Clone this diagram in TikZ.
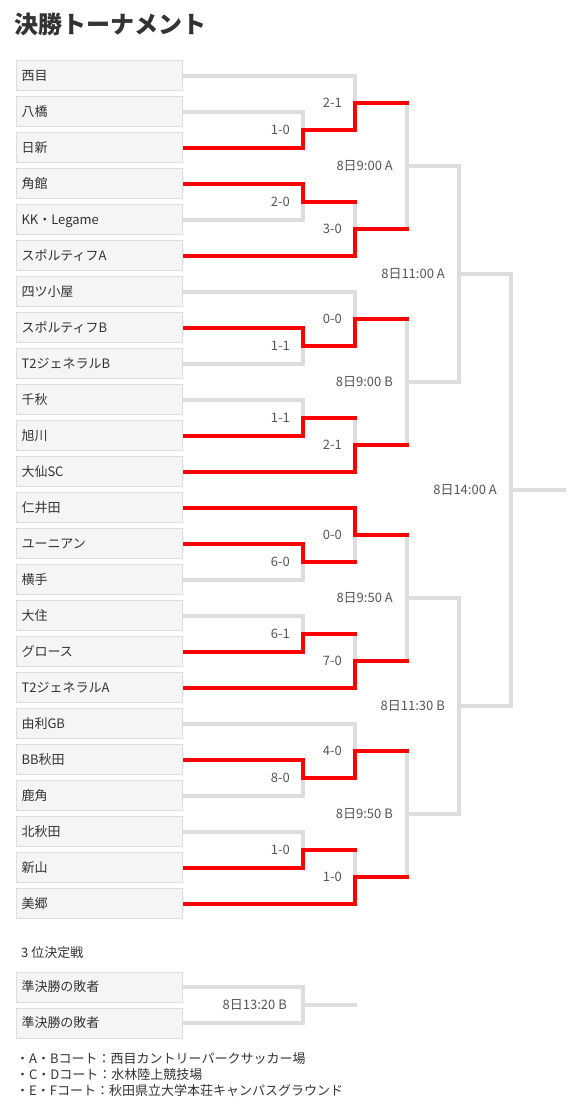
\documentclass[tikz,border=0pt]{standalone}
\usepackage{fontspec}
\setmainfont{Noto Sans CJK JP}
\usepackage{xcolor}
\usetikzlibrary{calc,positioning}
\definecolor{bracketgray}{HTML}{DDDDDD}
\definecolor{boxgray}{HTML}{F5F5F5}
\definecolor{winred}{HTML}{FF0000}
\definecolor{textdark}{HTML}{333333}
\definecolor{textmid}{HTML}{555555}

\begin{document}
\begin{tikzpicture}[x=1pt, y=-1pt,
    team/.style={draw=bracketgray, fill=boxgray, line width=1pt, anchor=west,
        minimum width=166pt, minimum height=30pt, text width=156pt,
        inner xsep=5pt, inner ysep=0pt, align=left, text=textdark,
        font=\fontsize{13}{15}\selectfont, text height=11.4pt, text depth=1.6pt},
    result/.style={inner sep=0pt, text=textmid, font=\fontsize{13}{15}\selectfont,
        text height=11.4pt, text depth=1.6pt},
    plain/.style={anchor=west, inner sep=0pt, text=textdark, font=\fontsize{13}{15}\selectfont,
        text height=11.4pt, text depth=1.6pt},
    gline/.style={draw=bracketgray, line width=4pt},
    rline/.style={draw=winred, line width=4pt, shorten >=-2pt}
]
    \useasboundingbox (0,0) rectangle (584,1120);
    \node[plain, font=\fontsize{24}{28}\selectfont\bfseries, text height=21pt, text depth=3pt] (title) at (14,24) {決勝トーナメント};
    % Teams
    \foreach \i/\l in {0/西目, 1/八橋, 2/日新, 3/角館, 4/KK・Legame, 5/スポルティフA,
        6/四ツ小屋, 7/スポルティフB, 8/T2ジェネラルB, 9/千秋, 10/旭川, 11/大仙SC,
        12/仁井田, 13/ユーニアン, 14/横手, 15/大住, 16/グロース, 17/T2ジェネラルA,
        18/由利GB, 19/BB秋田, 20/鹿角, 21/北秋田, 22/新山, 23/美郷} {
        \node[team] (t\i) at (16,{75.5+36*\i}) {\l};
    }
    % Columns
    \foreach \c/\x in {1/303, 2/355, 3/407, 4/459, 5/511} {
        \coordinate (c\c) at (\x,0);
    }
    % First and second round
    \foreach \m/\a/\b/\c/\s in {p0/t1/t2/c1/1-0, p1/t3/t4/c1/2-0, p2/t7/t8/c1/1-1, p3/t9/t10/c1/1-1,
        p4/t13/t14/c1/6-0, p5/t15/t16/c1/6-1, p6/t19/t20/c1/8-0, p7/t21/t22/c1/1-0,
        q0/t0/p0/c2/2-1, q1/p1/t5/c2/3-0, q2/t6/p2/c2/0-0, q3/p3/t11/c2/2-1,
        q4/t12/p4/c2/0-0, q5/p5/t17/c2/7-0, q6/t18/p6/c2/4-0, q7/p7/t23/c2/1-0} {
        \draw[gline] (\a) -| (\c |- \b) -- (\b);
        \coordinate (\m) at ($(\c |- \a)!.5!(\c |- \b)$);
        \node[result, left=13pt of \m] (l\m) {\s};
    }
    % Later rounds
    \foreach \m/\a/\b/\c/\s in {r0/q0/q1/c3/8日9:00 A, r1/q2/q3/c3/8日9:00 B,
        r2/q4/q5/c3/8日9:50 A, r3/q6/q7/c3/8日9:50 B,
        s0/r0/r1/c4/8日11:00 A, s1/r2/r3/c4/8日11:30 B, f/s0/s1/c5/8日14:00 A} {
        \draw[gline] (\a) -| (\c |- \b) -- (\b);
        \coordinate (\m) at ($(\c |- \a)!.5!(\c |- \b)$);
        \node[result, left=14pt of \m] (l\m) {\s};
    }
    \coordinate[right=55pt of f] (champ);
    \draw[gline] (f) -- (champ);
    % Winners
    \draw[rline] (t2) -| (p0) -| (q0) -- (c3 |- q0);
    \draw[rline] (t3) -| (p1) -- (c2 |- p1);
    \draw[rline] (t5) -| (q1) -- (c3 |- q1);
    \draw[rline] (t7) -| (p2) -| (q2) -- (c3 |- q2);
    \draw[rline] (t10) -| (p3) -- (c2 |- p3);
    \draw[rline] (t11) -| (q3) -- (c3 |- q3);
    \draw[rline] (t12) -| (q4) -- (c3 |- q4);
    \draw[rline] (t13) -| (p4) -- (c2 |- p4);
    \draw[rline] (t16) -| (p5) -- (c2 |- p5);
    \draw[rline] (t17) -| (q5) -- (c3 |- q5);
    \draw[rline] (t19) -| (p6) -| (q6) -- (c3 |- q6);
    \draw[rline] (t22) -| (p7) -- (c2 |- p7);
    \draw[rline] (t23) -| (q7) -- (c3 |- q7);
    % Third place
    \node[plain] (bronze) at (21,953) {3 位決定戦};
    \node[team] (u0) at (16,987) {準決勝の敗者};
    \node[team] (u1) at (16,1023) {準決勝の敗者};
    \draw[gline] (u0) -| (c1 |- u1) -- (u1);
    \coordinate (m3) at ($(c1 |- u0)!.5!(c1 |- u1)$);
    \coordinate[right=54pt of m3] (third);
    \draw[gline] (m3) -- (third);
    \node[result, left=16pt of m3] (lm3) {8日13:20 B};
    % Courts
    \foreach \k/\l in {0/・A・Bコート：西目カントリーパークサッカー場,
        1/・C・Dコート：水林陸上競技場,
        2/・E・Fコート：秋田県立大学本荘キャンパスグラウンド} {
        \node[plain] (court\k) at (16,{1059+16*\k}) {\l};
    }
\end{tikzpicture}
\end{document}
